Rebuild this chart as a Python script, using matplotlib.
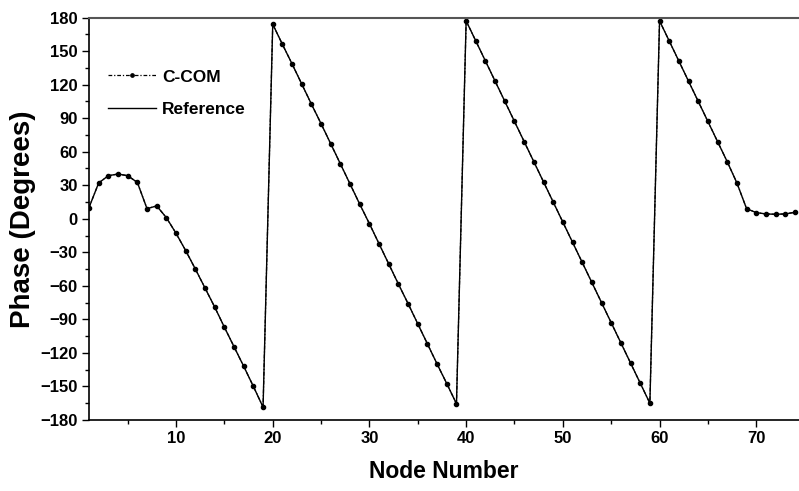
import numpy as np
import matplotlib.pyplot as plt
from matplotlib.ticker import MultipleLocator

plt.rcParams['font.family'] = ['Liberation Sans', 'DejaVu Sans']
plt.rcParams['font.weight'] = 'bold'

nodes = list(range(1, 75))
phase_ccom = [
    10, 32, 38.5, 40, 38.5, 32.5, 9, 11.5, 1, -13,
    -28.5, -45, -62, -79, -97, -114.5, -132, -150, -168.5,
    174, 156, 138.5, 120.5, 102.5, 85, 67, 49, 31, 13,
    -4.5, -22.5, -40.5, -58.5, -76, -94, -112, -130, -147.5, -165.5,
    177, 159, 141, 123, 105, 87, 69, 51, 33, 15,
    -3, -21, -39, -57, -75, -93, -111, -129, -147, -165,
    177, 159, 141, 123, 105, 87, 69, 51, 32, 9,
    5.5, 4.3, 4, 4.3, 5.8,
]
phase_ref = list(phase_ccom)

fig = plt.figure(figsize=(7.99, 4.91), dpi=100)
ax = fig.add_axes([89 / 799, 1 - 420 / 491, 1 - 89 / 799, (420 - 17.5) / 491])

ax.plot(nodes, phase_ccom, color='black', lw=0.9, ls=(0, (3, 1.5, 1, 1.5)),
        marker='o', markersize=3.0, label='C-COM')
ax.plot(nodes, phase_ref, color='black', lw=1.0, label='Reference')

ax.set_xlim(1, 74.42)
ax.set_ylim(-180, 180)
ax.xaxis.set_major_locator(MultipleLocator(10))
ax.xaxis.set_minor_locator(MultipleLocator(5))
ax.yaxis.set_major_locator(MultipleLocator(30))
ax.yaxis.set_minor_locator(MultipleLocator(15))
ax.tick_params(which='major', length=5, width=1, labelsize=12, pad=3)
ax.tick_params(which='minor', length=3, width=1)
for lab in ax.get_xticklabels() + ax.get_yticklabels():
    lab.set_fontweight('bold')

ax.spines['right'].set_visible(False)
ax.spines['top'].set_color('#555555')
ax.spines['top'].set_linewidth(1.5)
for s in ['left', 'bottom']:
    ax.spines[s].set_linewidth(1.2)

ax.set_xlabel('Node Number', fontsize=16.5, fontweight='bold', labelpad=10)
ax.set_ylabel('Phase (Degrees)', fontsize=20, fontweight='bold', labelpad=3)

leg = ax.legend(loc='upper left', bbox_to_anchor=(0.005, 0.91), frameon=False,
                handlelength=2.75, handletextpad=0.35, labelspacing=1.0,
                prop={'size': 12.5, 'weight': 'bold'}, markerscale=0.8)

fig.savefig('out.png', dpi=100)
